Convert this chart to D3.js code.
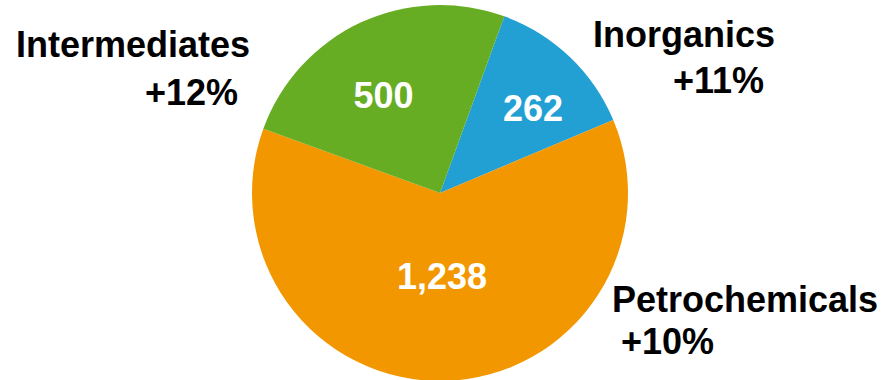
<!DOCTYPE html>
<html>
<head>
<meta charset="utf-8">
<script src="https://cdn.jsdelivr.net/npm/d3@7"></script>
<style>
  html, body { margin: 0; padding: 0; background: #ffffff; }
  svg { display: block; }
  text { font-family: "Liberation Sans", Arial, Helvetica, sans-serif; font-weight: bold; }
</style>
</head>
<body>
<svg id="chart" width="887" height="380"></svg>
<script>
// Segment names, sales volumes and growth rates (clockwise order)
const categories = ["Inorganics", "Petrochemicals", "Intermediates"];
const volumes = [262, 1238, 500];
const growth = ["+11%", "+10%", "+12%"];
const colors = ["#22A0D3", "#F39700", "#67AD23"];

const width = 887, height = 380;
const cx = 440, cy = 193, radius = 188;
const startDeg = 20;

// Layout: value label placement (distance from centre as a fraction of the radius,
// plus a small angular shift in degrees)
const valueLabelPos = {
  Inorganics: { k: 0.67, shift: 4 },
  Petrochemicals: { k: 0.44, shift: 0 },
  Intermediates: { k: 0.6, shift: -5 }
};
// Layout: category label blocks (anchor point and alignment)
const nameLabels = {
  Intermediates: { x: 250, y: 57, anchor: "end", gx: 238, gy: 105 },
  Inorganics: { x: 593, y: 47, anchor: "start", gx: 673, gy: 93 },
  Petrochemicals: { x: 612, y: 312, anchor: "start", gx: 621, gy: 354 }
};

const data = categories.map((c, i) => ({ name: c, value: volumes[i], growth: growth[i], color: colors[i] }));

const svg = d3.select("#chart");
const g = svg.append("g").attr("transform", `translate(${cx},${cy})`);

const start = startDeg * Math.PI / 180;
const pie = d3.pie()
  .value(d => d.value)
  .sort(null)
  .startAngle(start)
  .endAngle(start + 2 * Math.PI);

const arc = d3.arc().innerRadius(0).outerRadius(radius);
const arcs = pie(data);

g.selectAll("path.slice")
  .data(arcs)
  .join("path")
  .attr("class", "slice")
  .attr("d", arc)
  .attr("fill", d => d.data.color);

const fmt = d3.format(",");
g.selectAll("text.value")
  .data(arcs)
  .join("text")
  .attr("class", "value")
  .attr("transform", d => {
    const p = valueLabelPos[d.data.name];
    const a = (d.startAngle + d.endAngle) / 2 + p.shift * Math.PI / 180;
    const r = radius * p.k;
    return `translate(${r * Math.sin(a)},${-r * Math.cos(a)})`;
  })
  .attr("text-anchor", "middle")
  .attr("dy", "0.36em")
  .attr("fill", "#ffffff")
  .attr("font-size", 36)
  .text(d => fmt(d.data.value));

// Category names with growth rates
const labels = svg.selectAll("g.name")
  .data(data)
  .join("g")
  .attr("class", "name");

labels.append("text")
  .attr("x", d => nameLabels[d.name].x)
  .attr("y", d => nameLabels[d.name].y)
  .attr("text-anchor", d => nameLabels[d.name].anchor)
  .attr("font-size", 36)
  .attr("fill", "#000000")
  .text(d => d.name);

labels.append("text")
  .attr("x", d => nameLabels[d.name].gx)
  .attr("y", d => nameLabels[d.name].gy)
  .attr("text-anchor", d => nameLabels[d.name].anchor)
  .attr("font-size", 36)
  .attr("fill", "#000000")
  .text(d => d.growth);
</script>
</body>
</html>
